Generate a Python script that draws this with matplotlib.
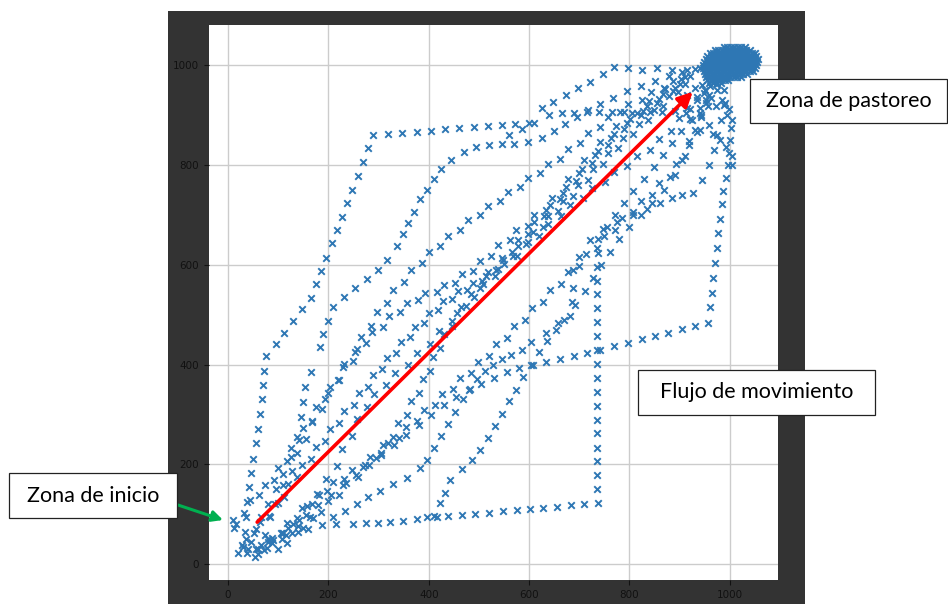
import matplotlib.pyplot as plt
from matplotlib.patches import Rectangle

# movement tracks of the herd, (x, y) in field units
path_a = [(30, 35), (34, 65), (36, 95), (38, 124), (42, 154), (46, 183), (50, 211), (56, 243),
          (60, 271), (64, 301), (68, 331), (70, 359), (72, 387), (76, 417), (96, 441), (112, 463),
          (129, 487), (147, 512), (165, 534), (175, 562), (185, 588), (195, 614), (207, 644),
          (217, 670), (227, 696), (237, 724), (247, 750), (259, 778), (269, 806), (279, 834),
          (289, 861), (319, 863), (347, 865), (376, 867), (404, 869), (432, 873), (460, 875),
          (490, 877), (518, 879), (546, 881), (572, 883), (600, 885), (625, 915), (647, 927),
          (673, 941), (697, 955), (721, 967), (747, 983), (769, 997), (797, 995), (825, 991),
          (855, 995), (884, 991), (914, 991), (940, 995)]

path_b = [(45, 45), (55, 70), (65, 95), (80, 120), (95, 150), (110, 180), (125, 215), (138, 255),
          (146, 295), (150, 325), (153, 355), (165, 385), (183, 435), (189, 461), (199, 487),
          (209, 516), (231, 536), (253, 554), (277, 572), (299, 590), (317, 610), (337, 638),
          (349, 662), (359, 684), (371, 706), (382, 732), (396, 750), (410, 772), (425, 792),
          (445, 810), (470, 826), (495, 836), (520, 840), (545, 842), (570, 843), (598, 846),
          (625, 855), (650, 868), (672, 882), (695, 896), (718, 910), (742, 922), (768, 935),
          (795, 948), (822, 958), (850, 968), (878, 978), (905, 986), (930, 992)]

path_c = [(40, 30), (65, 38), (90, 48), (115, 58), (140, 64), (160, 70), (187, 78), (215, 80),
          (249, 80), (275, 82), (299, 82), (323, 84), (349, 86), (376, 90), (396, 94), (416, 94),
          (438, 96), (466, 98), (492, 100), (520, 102), (548, 106), (576, 108), (602, 110),
          (627, 112), (655, 114), (683, 118), (709, 120), (737, 122), (736, 150), (735, 178),
          (735, 207), (735, 233), (735, 263), (735, 289), (735, 317), (735, 345), (735, 373),
          (735, 401), (735, 429), (735, 457), (735, 485), (735, 514), (735, 542), (736, 568),
          (736, 596), (737, 624), (738, 652), (755, 676), (772, 700), (790, 724), (808, 748),
          (828, 772), (848, 796), (866, 820), (884, 845), (902, 868), (920, 892), (940, 915),
          (958, 940), (972, 962)]

path_d = [(55, 30), (80, 45), (105, 62), (130, 80), (155, 98), (180, 118), (205, 138), (230, 158),
          (255, 178), (280, 198), (305, 218), (330, 238), (355, 258), (380, 278), (405, 298),
          (430, 318), (455, 335), (480, 350), (505, 362), (530, 374), (555, 385), (580, 393),
          (608, 399), (633, 405), (661, 411), (689, 417), (715, 423), (741, 429), (769, 437),
          (797, 443), (825, 451), (851, 457), (876, 463), (904, 471), (930, 477), (956, 483),
          (960, 516), (964, 544), (966, 574), (970, 604), (974, 634), (976, 664), (980, 692),
          (984, 722), (986, 748), (992, 775), (996, 800), (998, 825), (1000, 850), (1002, 875),
          (994, 900), (990, 925)]

path_e = [(15, 80), (32, 102), (44, 128), (62, 138), (73, 158), (92, 168), (99, 193), (117, 207),
          (126, 233), (142, 248), (150, 273), (167, 287), (176, 315), (193, 330), (203, 355),
          (221, 370), (230, 395), (248, 407), (256, 431), (275, 443), (286, 466), (308, 475),
          (320, 498), (343, 505), (356, 524), (379, 529), (393, 544), (417, 545), (430, 560),
          (453, 563), (466, 582), (489, 587), (502, 608), (525, 617), (538, 640), (561, 649),
          (574, 670), (597, 677), (610, 700), (633, 709), (646, 734), (667, 745), (678, 772),
          (699, 785), (710, 810), (731, 821), (742, 846), (763, 855), (774, 878), (795, 885),
          (806, 904), (827, 909), (838, 928), (859, 933), (870, 952), (891, 955), (902, 972),
          (920, 978)]

path_f = [(60, 20), (77, 33), (88, 53), (107, 62), (118, 83), (137, 92), (148, 113), (167, 121),
          (178, 141), (197, 147), (210, 165), (232, 171), (246, 189), (268, 195), (282, 215),
          (304, 223), (318, 243), (340, 253), (354, 275), (376, 287), (390, 309), (412, 319),
          (426, 341), (448, 351), (462, 373), (484, 383), (498, 405), (520, 417), (534, 441),
          (556, 453), (570, 477), (592, 489), (606, 513), (628, 525), (642, 549), (664, 561),
          (678, 585), (700, 597), (714, 621), (736, 633), (750, 657), (772, 669), (786, 693),
          (808, 705), (822, 729), (844, 741), (858, 765), (880, 777), (892, 803), (910, 819),
          (918, 849), (934, 867), (942, 897), (956, 918)]

path_g = [(35, 50), (52, 63), (63, 85), (82, 97), (93, 121), (112, 135), (120, 161), (138, 175),
          (148, 199), (166, 211), (176, 235), (194, 247), (204, 271), (222, 283), (232, 307),
          (250, 319), (260, 343), (278, 355), (288, 379), (306, 391), (316, 413), (334, 423),
          (344, 445), (362, 455), (372, 475), (390, 483), (400, 503), (418, 509), (428, 527),
          (447, 531), (458, 547), (477, 549), (488, 563), (507, 567), (518, 585), (537, 591),
          (548, 609), (567, 617), (578, 637), (597, 645), (608, 665), (627, 675), (638, 697),
          (657, 707), (668, 729), (687, 739), (698, 761), (717, 771), (728, 793), (747, 803),
          (758, 825), (777, 835), (788, 855), (807, 863), (818, 883), (837, 891), (848, 911),
          (867, 919), (878, 939), (897, 947), (910, 962)]

path_h = [(100, 30), (117, 43), (128, 63), (150, 73), (164, 95), (186, 105), (200, 127),
          (222, 139), (236, 163), (258, 175), (272, 199), (294, 213), (308, 239), (328, 255),
          (338, 283), (356, 299), (364, 327), (380, 343), (388, 371), (402, 387), (408, 415),
          (422, 433), (430, 461), (446, 477), (456, 503), (474, 517), (484, 541), (502, 553),
          (514, 577), (534, 589), (546, 613), (566, 625), (578, 649), (598, 661), (610, 685),
          (630, 697), (642, 721), (662, 733), (674, 757), (694, 769), (706, 793), (726, 805),
          (738, 829), (758, 841), (770, 863), (790, 873), (802, 893), (822, 901), (834, 919),
          (854, 925), (866, 943), (886, 949), (900, 962)]

path_i = [(60, 30), (74, 58), (83, 94), (100, 122), (110, 158), (128, 186), (138, 222), (156, 250),
          (168, 284), (188, 310), (200, 344), (220, 370), (232, 402), (252, 426), (264, 456),
          (284, 478), (296, 506), (316, 524), (328, 550), (350, 566), (364, 590), (386, 604),
          (400, 626), (422, 638), (438, 658), (462, 670), (478, 690), (502, 700), (518, 718),
          (542, 728), (558, 746), (582, 756), (598, 774), (622, 784), (638, 802), (662, 812),
          (678, 832), (702, 844), (718, 864), (742, 876), (758, 896), (782, 906), (798, 922),
          (824, 930), (842, 946), (868, 954), (886, 968), (910, 976)]

path_j = [(80, 50), (110, 62), (140, 76), (170, 92), (209, 94), (233, 106), (257, 120), (279, 134),
          (303, 146), (329, 160), (357, 172), (382, 193), (396, 209), (410, 232), (424, 256),
          (438, 280), (452, 304), (468, 330), (482, 352), (496, 372), (512, 388), (528, 400),
          (546, 412), (564, 420), (586, 429), (604, 445), (633, 463), (657, 483), (681, 497),
          (685, 526), (687, 554), (688, 590), (700, 615), (721, 650), (747, 672), (775, 686),
          (807, 700), (835, 712), (861, 724), (884, 734), (904, 740), (926, 745), (945, 770),
          (958, 800), (968, 830), (975, 860), (982, 890), (988, 920)]

path_k = [(410, 96), (422, 122), (432, 142), (442, 168), (466, 191), (486, 209), (502, 229),
          (518, 252), (532, 276), (546, 300), (560, 326), (574, 350), (588, 376), (604, 400),
          (620, 425), (636, 448), (653, 470), (670, 490), (692, 520), (712, 548), (728, 574),
          (744, 600), (762, 626), (780, 652), (800, 676), (822, 700), (845, 724), (868, 750),
          (890, 780), (905, 810), (918, 840), (930, 870), (942, 900), (952, 930)]

path_l = [(10, 88), (12, 72), (20, 22), (28, 38), (38, 22), (54, 14), (72, 28), (88, 42),
          (107, 50), (120, 72), (142, 88), (158, 117), (182, 138), (196, 170), (217, 196),
          (228, 230), (246, 256), (256, 290), (276, 314), (290, 342), (314, 360), (332, 384),
          (358, 400), (376, 424), (402, 442), (420, 468), (446, 488), (464, 516), (490, 536),
          (508, 562), (532, 578), (550, 602), (576, 618), (594, 642), (620, 658), (638, 682),
          (664, 698), (682, 720), (708, 734), (726, 754), (752, 766), (770, 786), (796, 798),
          (814, 818), (840, 830), (858, 852), (882, 868), (898, 894), (920, 912), (934, 936)]

path_m = [(560, 860), (585, 872), (610, 885), (640, 900), (665, 905), (690, 905), (715, 906),
          (740, 906), (765, 907), (790, 906), (815, 905), (840, 906), (865, 906), (890, 908),
          (915, 915), (935, 930), (950, 950)]

# last steps before reaching the grazing spot
funnel = [(940, 905), (952, 925), (948, 945), (962, 935), (975, 950), (985, 930), (998, 912),
          (1004, 890), (958, 880), (966, 862), (980, 850), (992, 836), (1004, 818), (1005, 800),
          (940, 870), (925, 890), (912, 905), (930, 955), (915, 940), (900, 925), (960, 958),
          (945, 960), (972, 918), (988, 950)]

paths = [path_a, path_b, path_c, path_d, path_e, path_f, path_g,
         path_h, path_i, path_j, path_k, path_l, path_m, funnel]

# grazing spot, rows of positions (y, list of x)
grazing_rows = [
    (1036, [988, 995, 1002, 1009, 1016, 1023, 1030]),
    (1030, [970, 977, 984, 991, 998, 1005, 1012, 1019, 1026, 1033, 1040]),
    (1024, [960, 967, 974, 981, 988, 995, 1002, 1009, 1016, 1023, 1030, 1037, 1044, 1050]),
    (1018, [955, 962, 969, 976, 983, 990, 997, 1004, 1011, 1018, 1025, 1032, 1039, 1046, 1053]),
    (1012, [952, 959, 966, 973, 980, 987, 994, 1001, 1008, 1015, 1022, 1029, 1036, 1043, 1050,
            1056]),
    (1006, [949, 956, 963, 970, 977, 984, 991, 998, 1005, 1012, 1019, 1026, 1033, 1040, 1047,
            1054]),
    (1000, [947, 954, 961, 968, 975, 982, 989, 996, 1003, 1010, 1017, 1024, 1031, 1038, 1045,
            1052]),
    (994, [947, 954, 961, 968, 975, 982, 989, 996, 1003, 1010, 1017, 1024, 1031, 1038, 1045,
           1050]),
    (988, [949, 956, 963, 970, 977, 984, 991, 998, 1005, 1012, 1019, 1026, 1033, 1040, 1046]),
    (982, [950, 957, 964, 971, 978, 985, 992, 999, 1006, 1013, 1020, 1027, 1034]),
    (976, [952, 959, 966, 973, 980, 987, 994, 1001, 1008, 1015, 1022]),
    (970, [955, 962, 969, 976, 983, 990, 997]),
    (964, [958, 966, 974, 982]),
]

W, H = 948, 604
fig = plt.figure(figsize=(W / 100, H / 100), dpi=100)
fig.patch.set_facecolor('white')

# dark frame behind the plot
fig.add_artist(Rectangle((168 / W, 0), (805 - 168) / W, (604 - 11) / H,
                         transform=fig.transFigure, facecolor='#333333',
                         edgecolor='none', zorder=-1))

ax = fig.add_axes([209 / W, 24 / H, (778 - 209) / W, (580 - 25) / H])
ax.set_facecolor('white')

blue = '#2e77b4'
for p in paths:
    ax.scatter([q[0] for q in p], [q[1] for q in p], marker='x', s=22,
               color=blue, linewidths=1.4, zorder=3)

gx = [x for y, row in grazing_rows for x in row]
gy = [y for y, row in grazing_rows for x in row]
ax.scatter(gx, gy, marker='x', s=22, color=blue, linewidths=1.4, zorder=3)

ax.set_xlim(-38, 1096)
ax.set_ylim(-32, 1081)
ax.set_xticks([0, 200, 400, 600, 800, 1000])
ax.set_yticks([0, 200, 400, 600, 800, 1000])
ax.grid(True, color='#cccccc', linewidth=1.0)
ax.set_axisbelow(True)
ax.tick_params(labelsize=7.5, labelcolor='#111111', color='#111111', length=3.5)
for s in ax.spines.values():
    s.set_visible(False)

# main flow arrow
ax.annotate('', xy=(926, 947), xytext=(58, 84),
            arrowprops=dict(arrowstyle='-|>', color='#ff0000', lw=2.6,
                            mutation_scale=22, shrinkA=0, shrinkB=0), zorder=5)

# start zone arrow (crosses the frame)
ax.annotate('', xy=(223, H - 520), xytext=(178, H - 505),
            xycoords='figure pixels', textcoords='figure pixels',
            arrowprops=dict(arrowstyle='-|>', color='#00b050', lw=2.2,
                            mutation_scale=16, shrinkA=0, shrinkB=0),
            annotation_clip=False, zorder=6)


def label_box(x0, x1, y0, y1, text):
    fig.add_artist(Rectangle((x0 / W, (H - y1) / H), (x1 - x0) / W, (y1 - y0) / H,
                             transform=fig.transFigure, facecolor='white',
                             edgecolor='#222222', linewidth=0.9, zorder=7))
    fig.text((x0 + x1) / 2 / W, (H - (y0 + y1) / 2) / H, text, ha='center', va='center',
             fontsize=15.5, family='Lato', color='black', zorder=8)


label_box(750, 947, 79, 123, 'Zona de pastoreo')
label_box(638, 875, 370, 415, 'Flujo de movimiento')
label_box(9, 177, 473, 518, 'Zona de inicio')

fig.savefig('out.png', dpi=100)
